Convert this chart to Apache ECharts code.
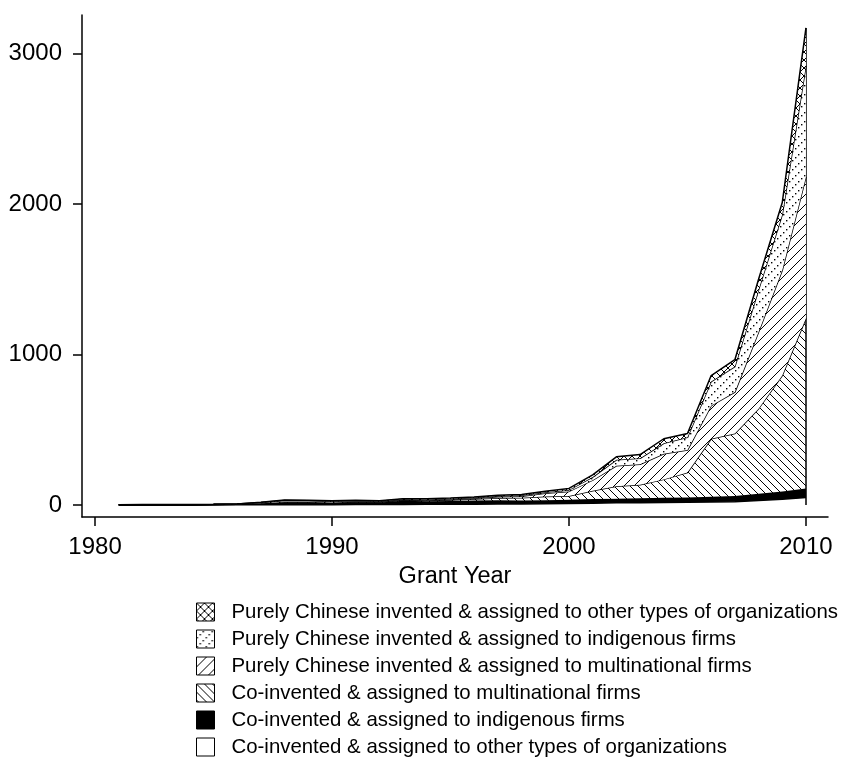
<!DOCTYPE html>
<html><head><meta charset="utf-8">
<script src="https://cdn.jsdelivr.net/npm/echarts@6/dist/echarts.min.js"></script>
<style>html,body{margin:0;padding:0;background:#fff}#c{width:842px;height:757px}</style>
</head><body><div id="c"></div>
<script>
// ---- data (patents per grant year) ----
const years = [1981,1982,1983,1984,1985,1986,1987,1988,1989,1990,1991,1992,1993,1994,1995,1996,1997,1998,1999,2000,2001,2002,2003,2004,2005,2006,2007,2008,2009,2010];
const coOther          = [0,0,0,0,1,1,1,2,2,2,3,3,3,4,4,5,6,6,8,10,12,14,15,16,18,20,22,30,38,50];
const coIndigenous     = [1,2,2,2,2,4,10,15,14,12,14,13,25,20,22,24,26,24,24,25,28,28,30,32,32,35,38,45,52,60];
const coMultinational  = [0,0,0,0,0,0,1,1,2,2,2,3,4,5,7,10,14,18,25,25,55,83,90,122,165,385,415,565,770,1130];
const pureMultinational= [0,0,0,0,0,0,0,1,1,1,2,2,2,3,4,5,8,10,20,30,70,135,135,170,150,220,275,510,700,940];
const pureIndigenous   = [0,0,0,0,0,1,4,10,9,8,7,4,4,5,5,5,6,7,8,10,20,40,40,70,85,160,170,280,370,740];
const pureOther        = [1,1,1,1,1,1,2,4,3,3,3,3,4,4,4,4,5,5,6,10,15,20,25,30,25,40,45,70,80,250];
const yTicks = [0,1000,2000,3000];
const xTicks = [1980,1990,2000,2010];
const names = {
  coOther: 'Co-invented & assigned to other types of organizations',
  coIndigenous: 'Co-invented & assigned to indigenous firms',
  coMultinational: 'Co-invented & assigned to multinational firms',
  pureMultinational: 'Purely Chinese invented & assigned to multinational firms',
  pureIndigenous: 'Purely Chinese invented & assigned to indigenous firms',
  pureOther: 'Purely Chinese invented & assigned to other types of organizations'
};

// ---- fill patterns ----
function pattern(size, draw){
  const c = document.createElement('canvas'); c.width = size; c.height = size;
  const g = c.getContext('2d');
  g.fillStyle = '#fff'; g.fillRect(0,0,size,size);
  g.strokeStyle = '#000'; g.fillStyle = '#000'; g.lineWidth = 1;
  draw(g, size);
  return {image: c, repeat: 'repeat'};
}
const fwd = (g,s)=>{ g.beginPath(); g.moveTo(0,s); g.lineTo(s,0); g.moveTo(-1,1); g.lineTo(1,-1); g.moveTo(s-1,s+1); g.lineTo(s+1,s-1); g.stroke(); };
const back = (g,s)=>{ g.beginPath(); g.moveTo(0,0); g.lineTo(s,s); g.moveTo(s-1,-1); g.lineTo(s+1,1); g.moveTo(-1,s-1); g.lineTo(1,s+1); g.stroke(); };
const dots = (g,s)=>{ for(let i=0;i<s;i+=3){ g.fillRect(i, s-2-i<0?s-2-i+s:s-2-i, 1.4, 1.4); } };
const fills = {
  coOther: '#ffffff',
  coIndigenous: '#000000',
  coMultinational: pattern(8, back),
  pureMultinational: pattern(10, fwd),
  pureIndigenous: pattern(9, dots),
  pureOther: pattern(8, (g,s)=>{ fwd(g,s); back(g,s); })
};

const order = ['coOther','coIndigenous','coMultinational','pureMultinational','pureIndigenous','pureOther'];
const values = {coOther, coIndigenous, coMultinational, pureMultinational, pureIndigenous, pureOther};
const lastIdx = years.length - 1;
const lastTotal = order.reduce((s,k)=>s+values[k][lastIdx],0);

const series = order.map((k,i)=>({
  name: names[k], type: 'line', stack: 'all', showSymbol: false, symbol: 'none',
  // value first so that ECharts stacks the value (y) dimension
  data: years.map((y,j)=>[values[k][j], y]),
  encode: {x: 1, y: 0},
  itemStyle: {color: fills[k]},
  lineStyle: {color: '#000', width: 1.5},
  areaStyle: {color: fills[k], opacity: 1},
  emphasis: {disabled: true},
  z: 2 + i,
  markLine: i === order.length - 1 ? {
    silent: true, symbol: 'none', label: {show: false},
    lineStyle: {color: '#000', width: 1.5, type: 'solid'},
    data: [[{coord: [years[lastIdx], 0]}, {coord: [years[lastIdx], lastTotal]}]]
  } : undefined
}));

const font = 'Liberation Sans, Arial, Helvetica, sans-serif';
const chart = echarts.init(document.getElementById('c'), null, {renderer: 'canvas'});
chart.setOption({
  animation: false,
  backgroundColor: '#fff',
  grid: {left: 82, right: 14, top: 15, bottom: 240, containLabel: false},
  xAxis: {
    type: 'value', min: 1979.45, max: 2010.93,
    name: 'Grant Year', nameLocation: 'middle', nameGap: 48,
    nameTextStyle: {fontSize: 23.5, color: '#000', fontFamily: font},
    axisLine: {onZero: false, lineStyle: {color: '#000', width: 1.5}},
    axisTick: {show: true, length: 9, customValues: xTicks, lineStyle: {color: '#000', width: 1.5}},
    axisLabel: {customValues: xTicks, margin: 18, fontSize: 24, color: '#000', fontFamily: font, formatter: v => String(v)},
    splitLine: {show: false}
  },
  yAxis: {
    type: 'value', min: -80, max: 3256,
    axisLine: {show: true, lineStyle: {color: '#000', width: 1.5}},
    axisTick: {show: true, length: 9, customValues: yTicks, lineStyle: {color: '#000', width: 1.5}},
    axisLabel: {customValues: yTicks, margin: 20, fontSize: 24, color: '#000', fontFamily: font, formatter: v => String(v)},
    splitLine: {show: false}
  },
  legend: {
    orient: 'vertical', left: 196, top: 602, icon: 'rect', padding: 0, height: 200,
    itemWidth: 18, itemHeight: 18, itemGap: 7,
    selectedMode: false,
    textStyle: {fontSize: 20.4, lineHeight: 18, color: '#000', fontFamily: font, padding: [0,0,0,12]},
    itemStyle: {borderColor: '#000', borderWidth: 1},
    data: order.slice().reverse().map(k => ({name: names[k], itemStyle: {color: fills[k], borderColor: '#000', borderWidth: 1}}))
  },
  series
});
</script></body></html>
